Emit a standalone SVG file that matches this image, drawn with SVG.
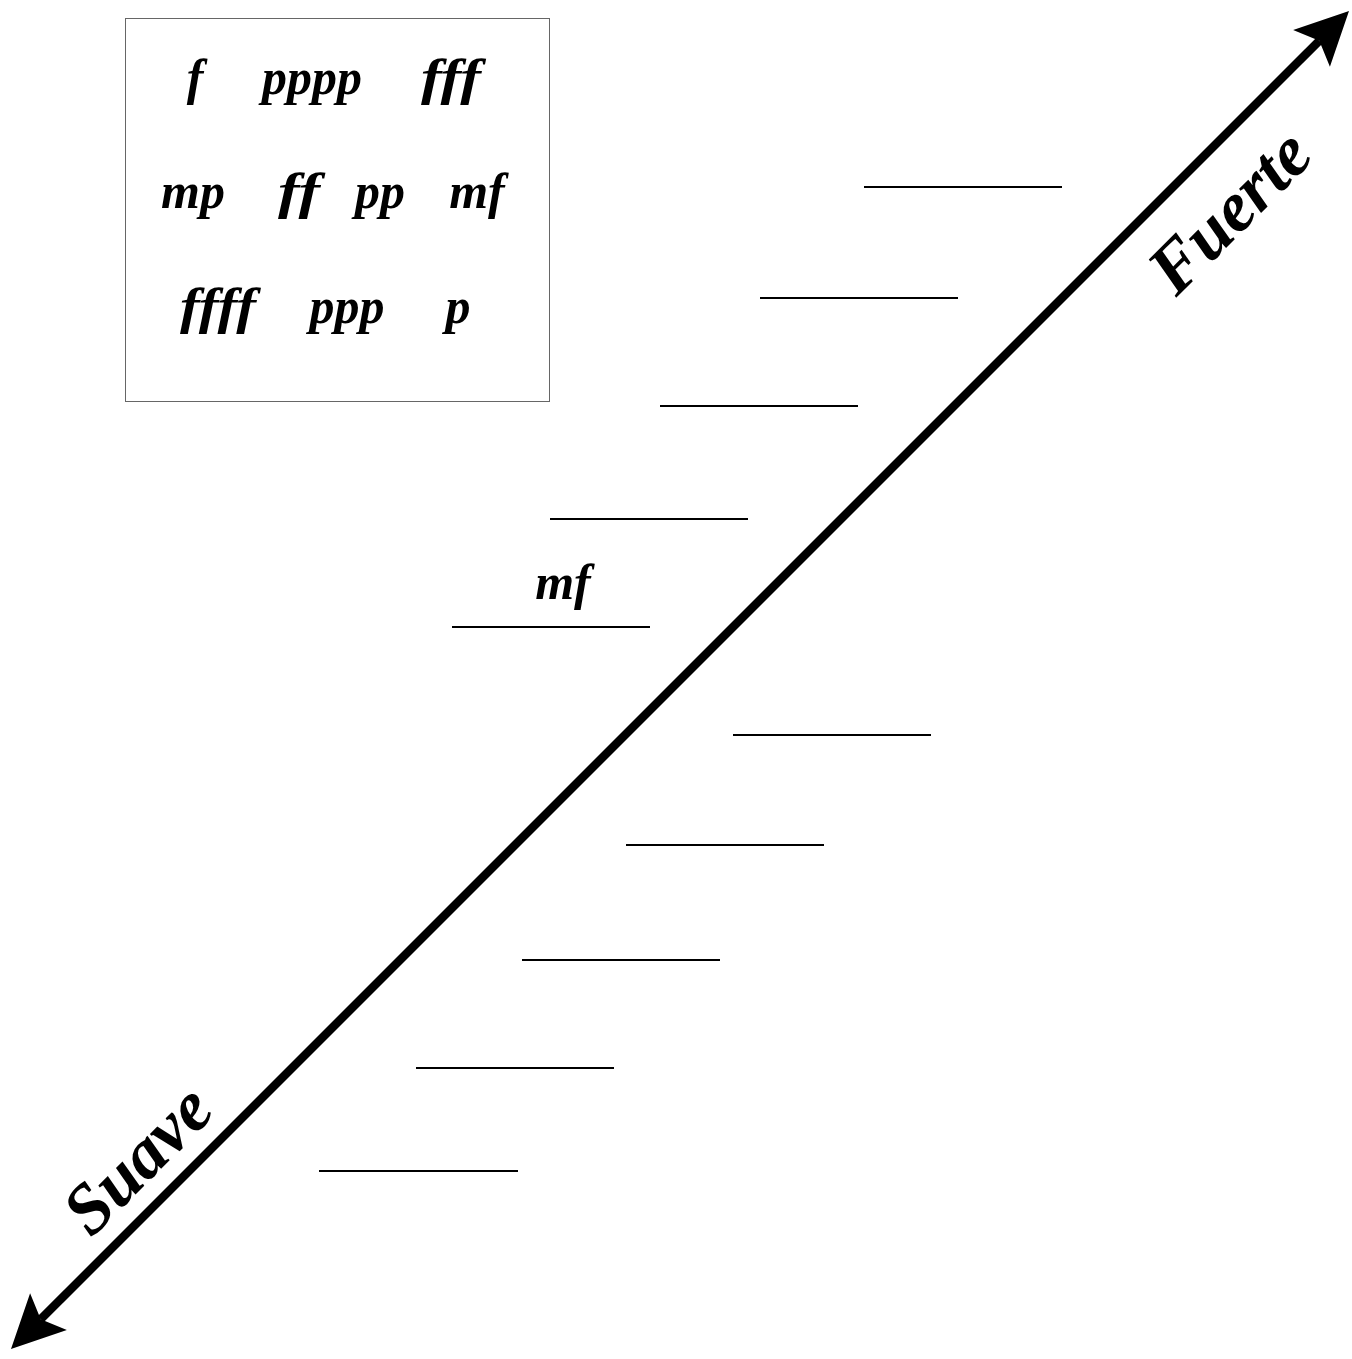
<svg xmlns="http://www.w3.org/2000/svg" width="1352" height="1359" viewBox="0 0 1352 1359">
<style>
.dyn{font-family:"Liberation Serif","Times New Roman",serif;font-weight:bold;font-style:italic;font-size:50px;fill:#000;text-anchor:middle}
.lbl{font-family:"Liberation Serif","Times New Roman",serif;font-weight:bold;font-style:italic;font-size:71px;fill:#000;text-anchor:middle}
.blank{stroke:#000;stroke-width:2;fill:none}
.axis{stroke:#000;stroke-width:8.5;fill:none}
</style>
<defs>
<marker id="ah" viewBox="-54 -28 56 56" refX="-42" refY="0" markerWidth="56" markerHeight="56" markerUnits="userSpaceOnUse" orient="auto-start-reverse">
<path d="M0,0 L-53,-26 L-42,0 L-53,26 Z" fill="#000"/>
</marker>
</defs>
<rect width="1352" height="1359" fill="#fff"/>
<g id="legend">
<rect x="125.5" y="18.5" width="424" height="383" fill="#fff" stroke="#666" stroke-width="1"/>
<text class="dyn" x="195" y="94">f</text>
<text class="dyn" x="312" y="94">pppp</text>
<text class="dyn" x="451" y="94" textLength="60" lengthAdjust="spacingAndGlyphs">fff</text>
<text class="dyn" x="193" y="208">mp</text>
<text class="dyn" x="299" y="208" textLength="42" lengthAdjust="spacingAndGlyphs">ff</text>
<text class="dyn" x="380" y="208">pp</text>
<text class="dyn" x="477" y="208">mf</text>
<text class="dyn" x="218" y="323" textLength="76" lengthAdjust="spacingAndGlyphs">ffff</text>
<text class="dyn" x="347" y="323">ppp</text>
<text class="dyn" x="458" y="323">p</text>
</g>
<g id="connectors">
<line class="axis" x1="40.7" y1="1319.3" x2="1319.3" y2="40.7" marker-start="url(#ah)" marker-end="url(#ah)"/>
</g>
<g id="label-fuerte"><text class="lbl" transform="translate(1246,228) rotate(-45)">Fuerte</text></g>
<g id="label-suave"><text class="lbl" transform="translate(154,1176) rotate(-45)">Suave</text></g>
<g id="blanks">
<line class="blank" x1="864" y1="187" x2="1062" y2="187"/>
<line class="blank" x1="760" y1="298" x2="958" y2="298"/>
<line class="blank" x1="660" y1="406" x2="858" y2="406"/>
<line class="blank" x1="550" y1="519" x2="748" y2="519"/>
<line class="blank" x1="452" y1="627" x2="650" y2="627"/>
<line class="blank" x1="733" y1="735" x2="931" y2="735"/>
<line class="blank" x1="626" y1="845" x2="824" y2="845"/>
<line class="blank" x1="522" y1="960" x2="720" y2="960"/>
<line class="blank" x1="416" y1="1068" x2="614" y2="1068"/>
<line class="blank" x1="319" y1="1171" x2="518" y2="1171"/>
</g>
<g id="answer-mf"><text class="dyn" x="563" y="599">mf</text></g>
</svg>
